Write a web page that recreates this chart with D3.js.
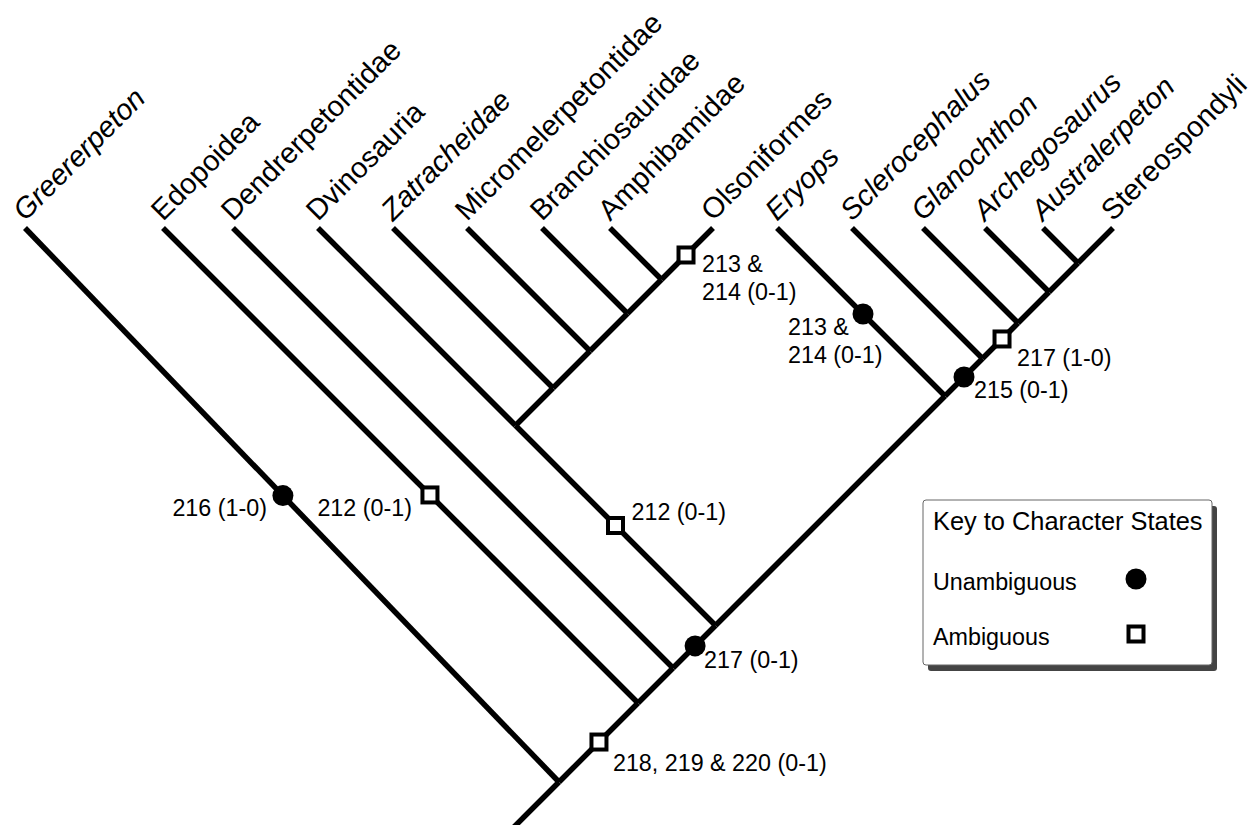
<!DOCTYPE html>
<html>
<head>
<meta charset="utf-8">
<script src="https://cdn.jsdelivr.net/npm/d3@7"></script>
<style>
  html, body { margin: 0; padding: 0; background: #fff; }
  svg { display: block; font-family: "Liberation Sans", Arial, sans-serif; }
</style>
</head>
<body>
<div id="chart"></div>
<script>
// ---------------- data ----------------
// terminal taxa, left to right
const taxa = [
  'Greererpeton', 'Edopoidea', 'Dendrerpetontidae', 'Dvinosauria', 'Zatracheidae',
  'Micromelerpetontidae', 'Branchiosauridae', 'Amphibamidae', 'Olsoniformes', 'Eryops',
  'Sclerocephalus', 'Glanochthon', 'Archegosaurus', 'Australerpeton', 'Stereospondyli'
];
const italicTaxa = ['Greererpeton', 'Zatracheidae', 'Eryops', 'Sclerocephalus',
  'Glanochthon', 'Archegosaurus', 'Australerpeton'];

// topology (nested pairs)
const cladeTree =
  ['Greererpeton',
    ['Edopoidea',
      ['Dendrerpetontidae',
        [['Dvinosauria', ['Zatracheidae', ['Micromelerpetontidae', ['Branchiosauridae', ['Amphibamidae', 'Olsoniformes']]]]],
         ['Eryops', ['Sclerocephalus', ['Glanochthon', ['Archegosaurus', ['Australerpeton', 'Stereospondyli']]]]]]]]];

// character changes: branch (clade named "leftmost-rightmost" or a taxon), text, kind
const markerBranches = ['Greererpeton', 'Edopoidea', 'Dvinosauria-Olsoniformes', 'Dvinosauria-Stereospondyli',
  'Edopoidea-Stereospondyli', 'Olsoniformes', 'Eryops', 'Sclerocephalus-Stereospondyli', 'Glanochthon-Stereospondyli'];
const markerLabels = [
  ['216 (1-0)'], ['212 (0-1)'], ['212 (0-1)'], ['217 (0-1)'], ['218, 219 & 220 (0-1)'],
  ['213 &', '214 (0-1)'], ['213 &', '214 (0-1)'], ['215 (0-1)'], ['217 (1-0)']
];
const markerKinds = ['u', 'a', 'a', 'u', 'a', 'a', 'u', 'u', 'a'];

const legendTitle = 'Key to Character States';
const legendNames = ['Unambiguous', 'Ambiguous'];
const legendKinds = ['u', 'a'];

// ---------------- layout ----------------
const W = 1255, H = 825;
const tipY = 228;
// distance of each tip from the first one along the top line
const tipOffset = [0, 138, 208, 293, 368, 442, 517, 585, 688, 752, 827, 898, 960, 1018, 1088];
const leftSlope = { Greererpeton: 1.0375 };   // the outgroup branch is drawn a bit steeper
// where each marker sits on its branch (t from parent) and where its text goes
const markerPlace = [
  { t: 0.517, dx: -16, dy: 20, anchor: 'end' },
  { t: 0.438, dx: -18, dy: 21, anchor: 'end' },
  { t: 0.5,   dx: 16,  dy: -6, anchor: 'start' },
  { t: 0.52,  dx: 9,   dy: 22, anchor: 'start' },
  { t: 0.506, dx: 14,  dy: 29, anchor: 'start' },
  { t: 0.476, dx: 16,  dy: 17, anchor: 'start' },
  { t: 0.488, dx: -75, dy: 21, anchor: 'start' },
  { t: 0.507, dx: 10,  dy: 21, anchor: 'start' },
  { t: 0.55,  dx: 15,  dy: 27, anchor: 'start' }
];
const lineGap = 28;

const x = d3.scaleLinear().domain([0, 1088]).range([25, 1113]);

const svg = d3.select('#chart').append('svg')
  .attr('width', W).attr('height', H)
  .attr('viewBox', `0 0 ${W} ${H}`);

// ------- hierarchy + diagonal layout
const root = d3.hierarchy(cladeTree, d => Array.isArray(d) ? d : null);
root.leaves().forEach(l => {
  l.name = l.data;
  const i = taxa.indexOf(l.name);
  l.x = x(tipOffset[i]);
  l.y = tipY;
});
root.eachAfter(n => {
  if (!n.children) return;
  const lv = n.leaves();
  const L = lv[0], R = lv[lv.length - 1];
  const k = leftSlope[L.name] || 1;
  n.x = (k * L.x + R.x) / (k + 1);
  n.y = tipY + (R.x - n.x);
  n.name = `${L.name}-${R.name}`;
});

const byName = new Map(root.descendants().map(n => [n.name, n]));

// ------- branches
const g = svg.append('g');
g.selectAll('line.branch')
  .data(root.descendants().filter(n => n.parent))
  .join('line')
  .attr('class', 'branch')
  .attr('x1', d => d.parent.x).attr('y1', d => d.parent.y)
  .attr('x2', d => d.x).attr('y2', d => d.y)
  .attr('stroke', '#000').attr('stroke-width', 5.5);

// root stem runs off the bottom edge
const stemY = H + 10;
g.append('line')
  .attr('x1', root.x).attr('y1', root.y)
  .attr('x2', root.x - (stemY - root.y)).attr('y2', stemY)
  .attr('stroke', '#000').attr('stroke-width', 5.5);

// ------- tip labels
g.selectAll('text.tip')
  .data(root.leaves())
  .join('text')
  .attr('class', 'tip')
  .attr('transform', d => `translate(${d.x},${d.y - 6}) rotate(-45)`)
  .attr('font-size', 29)
  .attr('font-style', d => italicTaxa.includes(d.name) ? 'italic' : 'normal')
  .attr('fill', '#000')
  .text(d => d.name);

// ------- character markers
const markers = markerBranches.map((b, i) => {
  const n = byName.get(b);
  const p = markerPlace[i];
  return {
    x: n.parent.x + p.t * (n.x - n.parent.x),
    y: n.parent.y + p.t * (n.y - n.parent.y),
    kind: markerKinds[i], lines: markerLabels[i], place: p
  };
});

function drawSymbol(sel, kind, cx, cy) {
  if (kind === 'u') {
    sel.append('circle').attr('cx', cx).attr('cy', cy).attr('r', 10.5).attr('fill', '#000');
  } else {
    sel.append('rect').attr('x', cx - 7.5).attr('y', cy - 7.5)
      .attr('width', 15).attr('height', 15)
      .attr('fill', '#fff').attr('stroke', '#000').attr('stroke-width', 4);
  }
}

const mg = g.append('g').attr('class', 'markers');
markers.forEach(m => {
  drawSymbol(mg, m.kind, m.x, m.y);
  const t = mg.append('text')
    .attr('x', m.x + m.place.dx)
    .attr('y', m.y + m.place.dy)
    .attr('text-anchor', m.place.anchor)
    .attr('font-size', 23.3)
    .attr('fill', '#000');
  m.lines.forEach((s, j) => {
    t.append('tspan').attr('x', m.x + m.place.dx)
      .attr('y', m.y + m.place.dy + j * lineGap).text(s);
  });
});

// ------- legend
const lg = svg.append('g').attr('transform', 'translate(923,500)');
const boxW = 289, boxH = 165;
lg.append('rect').attr('x', 5).attr('y', 6).attr('width', boxW).attr('height', boxH)
  .attr('rx', 3).attr('fill', '#444');
lg.append('rect').attr('x', 0).attr('y', 0).attr('width', boxW).attr('height', boxH)
  .attr('rx', 3).attr('fill', '#fff').attr('stroke', '#666').attr('stroke-width', 1);
lg.append('text').attr('x', 10).attr('y', 30).attr('font-size', 25.4).text(legendTitle);
legendNames.forEach((name, i) => {
  const cy = 80 + i * 55;
  lg.append('text').attr('x', 10).attr('y', cy + 10).attr('font-size', 23.3).text(name);
  drawSymbol(lg, legendKinds[i], 213, cy - 1);
});
</script>
</body>
</html>
